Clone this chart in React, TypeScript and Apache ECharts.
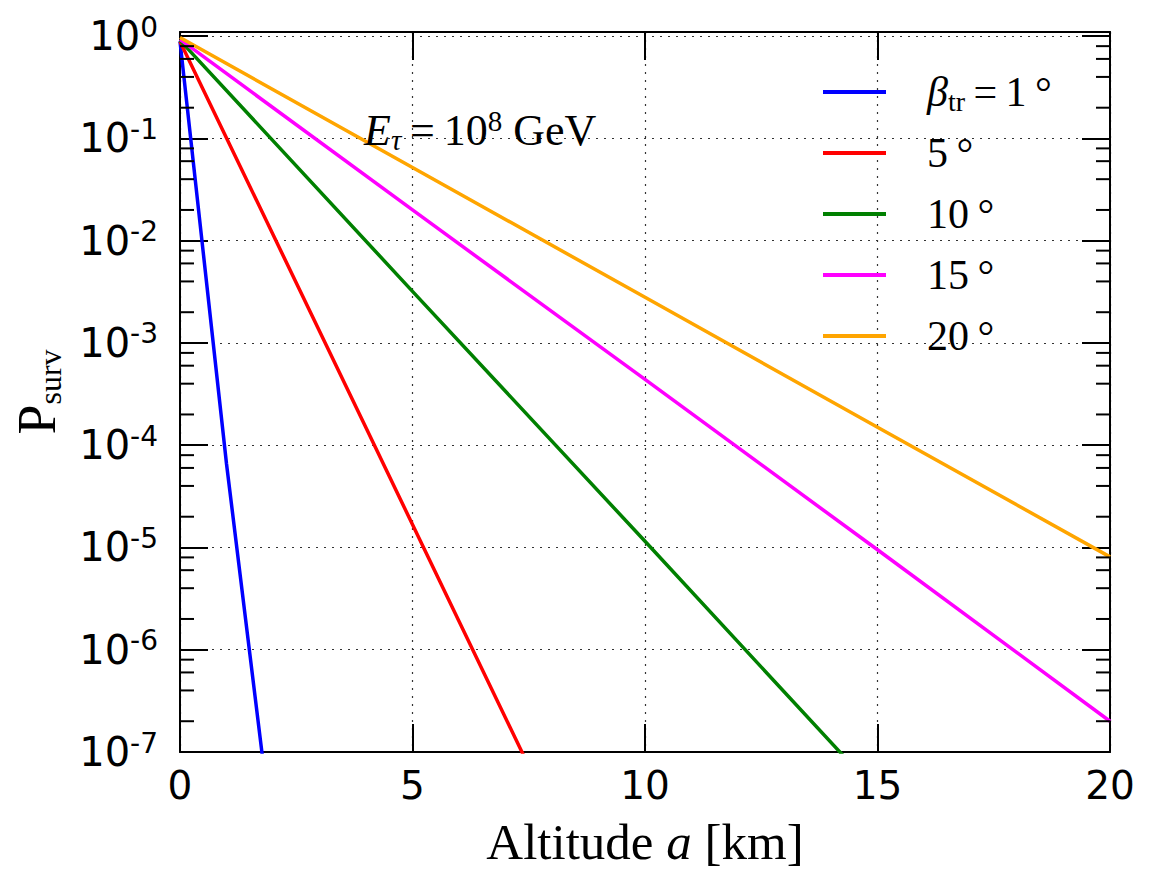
import React, { useEffect, useRef } from 'react';
import * as echarts from 'echarts';

// ---- data ----
const X_MIN = 0;
const X_MAX = 20;
const Y_MIN = 1e-7;
const Y_MAX = 1.1;
const X_TICKS_INTERVAL = 5;

const seriesNames = ['β_tr = 1°', '5°', '10°', '15°', '20°'];
const seriesColors = ['#0000ff', '#ff0000', '#008000', '#ff00ff', '#ffa500'];

const blueX = [0, 1, 2];
const blueY = [0.89, 6.6e-5, 1.3e-8];
const redX = [0, 2, 4, 6, 8];
const redY = [0.89, 1.15e-2, 1.48e-4, 1.9e-6, 2.45e-8];
const greenX = [0, 5, 10, 15];
const greenY = [0.91, 3.2e-3, 1.15e-5, 4e-8];
const magentaX = [0, 5, 10, 15, 20];
const magentaY = [0.93, 2.0e-2, 4.4e-4, 9.5e-6, 2.0e-7];
const orangeX = [0, 5, 10, 15, 20];
const orangeY = [0.97, 5.2e-2, 2.8e-3, 1.5e-4, 8.1e-6];

const decadeExponents = [-7, -6, -5, -4, -3, -2, -1];
const minorMultipliers = [2, 4, 6, 8];

const SERIF = '"Liberation Serif", "DejaVu Serif", serif';
const SANS = '"DejaVu Sans", sans-serif';

const zip = (xs: number[], ys: number[]) => xs.map((x, i) => [x, ys[i]]);
const seriesData = [
  zip(blueX, blueY),
  zip(redX, redY),
  zip(greenX, greenY),
  zip(magentaX, magentaY),
  zip(orangeX, orangeY),
];

const minorTickData: number[][] = [];
decadeExponents.forEach((e) => {
  minorMultipliers.forEach((m) => {
    minorTickData.push([X_MIN, m * Math.pow(10, e)]);
  });
});

const yLabelFormatter = (v: number) => {
  const lg = Math.log10(v);
  const e = Math.round(lg);
  if (Math.abs(lg - e) > 1e-6) return '';
  return `{b|10}{s|${e}}`;
};

const yLabelRich = {
  b: { fontFamily: SANS, fontSize: 40, lineHeight: 46, color: '#000' },
  s: { fontFamily: SANS, fontSize: 28, lineHeight: 18, verticalAlign: 'top', color: '#000' },
};

const legendRich = {
  n: { fontFamily: SERIF, fontSize: 42, lineHeight: 46, color: '#000' },
  it: { fontFamily: SERIF, fontStyle: 'italic', fontSize: 42, lineHeight: 46, color: '#000' },
  sub: { fontFamily: SERIF, fontSize: 28, lineHeight: 26, verticalAlign: 'bottom', color: '#000' },
};

const legendFormatter = (name: string) => {
  if (name.startsWith('β')) return '{it|β}{sub|tr}{n|\u2009=\u20091\u2009°}';
  return `{n|${name.replace('°', '\u2009°')}}`;
};

const option: any = {
  animation: false,
  backgroundColor: '#fff',
  grid: {
    left: 180,
    top: 32,
    width: 930,
    height: 720,
    containLabel: false,
    outerBoundsMode: 'none',
  },
  legend: {
    data: seriesNames,
    orient: 'vertical',
    left: 818,
    top: 64,
    icon: 'rect',
    itemWidth: 63,
    itemHeight: 4,
    itemGap: 15,
    formatter: legendFormatter,
    textStyle: {
      fontFamily: SERIF,
      fontSize: 42,
      color: '#000',
      padding: [0, 0, 0, 36],
      lineHeight: 46,
      height: 46,
      rich: legendRich,
    },
  },
  xAxis: [
    {
      type: 'value',
      min: X_MIN,
      max: X_MAX,
      interval: X_TICKS_INTERVAL,
      position: 'bottom',
      name: '{n|Altitude }{it|a}{n| [km]}',
      nameLocation: 'middle',
      nameGap: 64,
      nameTextStyle: {
        rich: {
          n: { fontFamily: SERIF, fontSize: 51, color: '#000' },
          it: { fontFamily: SERIF, fontStyle: 'italic', fontSize: 51, color: '#000' },
        },
      },
      axisLine: { show: true, onZero: false, lineStyle: { color: '#000', width: 2 } },
      axisTick: { show: true, inside: true, length: 28, lineStyle: { color: '#000', width: 2 } },
      axisLabel: { show: true, margin: 14, fontFamily: SANS, fontSize: 39, color: '#000' },
      splitLine: { show: true, lineStyle: { color: '#333', width: 1.2, type: [2, 6] } },
    },
    {
      type: 'value',
      min: X_MIN,
      max: X_MAX,
      interval: X_TICKS_INTERVAL,
      position: 'top',
      axisLine: { show: true, onZero: false, lineStyle: { color: '#000', width: 2 } },
      axisTick: { show: true, inside: true, length: 28, lineStyle: { color: '#000', width: 2 } },
      axisLabel: { show: false },
      splitLine: { show: false },
    },
  ],
  yAxis: [
    {
      type: 'log',
      min: Y_MIN,
      max: Y_MAX,
      position: 'left',
      name: '{p|P}{s|surv}',
      nameLocation: 'middle',
      nameRotate: 90,
      nameGap: 114,
      nameTextStyle: {
        rich: {
          p: { fontFamily: SERIF, fontSize: 54, lineHeight: 58, color: '#000' },
          s: { fontFamily: SERIF, fontSize: 32, lineHeight: 24, verticalAlign: 'bottom', color: '#000' },
        },
      },
      axisLine: { show: true, onZero: false, lineStyle: { color: '#000', width: 2 } },
      axisTick: { show: true, inside: true, length: 28, lineStyle: { color: '#000', width: 2 } },
      axisLabel: { show: true, margin: 22, formatter: yLabelFormatter, rich: yLabelRich },
      splitLine: { show: true, lineStyle: { color: '#333', width: 1.2, type: [2, 6] } },
      minorTick: { show: false },
    },
    {
      type: 'log',
      min: Y_MIN,
      max: Y_MAX,
      position: 'right',
      axisLine: { show: true, onZero: false, lineStyle: { color: '#000', width: 2 } },
      axisTick: { show: true, inside: true, length: 28, lineStyle: { color: '#000', width: 2 } },
      axisLabel: { show: false },
      splitLine: { show: false },
    },
  ],
  graphic: [
    {
      type: 'text',
      left: 364,
      top: 106,
      z: 10,
      style: {
        text: '{it|E}{sub|τ}{n|\u2009=\u200910}{sup|8}{n| GeV}',
        fill: '#000',
        rich: {
          n: { fontFamily: SERIF, fontSize: 44, lineHeight: 48, color: '#000' },
          it: { fontFamily: SERIF, fontStyle: 'italic', fontSize: 44, lineHeight: 48, color: '#000' },
          sub: { fontFamily: SERIF, fontStyle: 'italic', fontSize: 29, lineHeight: 26, verticalAlign: 'bottom', color: '#000' },
          sup: { fontFamily: SERIF, fontSize: 29, lineHeight: 18, verticalAlign: 'top', color: '#000' },
        },
      },
    },
  ],
  series: [
    ...seriesNames.map((name, i) => ({
      name,
      type: 'line',
      xAxisIndex: 0,
      yAxisIndex: 0,
      data: seriesData[i],
      showSymbol: false,
      symbol: 'none',
      clip: true,
      lineStyle: { color: seriesColors[i], width: 3.5 },
      itemStyle: { color: seriesColors[i] },
      z: 3,
    })),
    {
      type: 'custom',
      name: 'minorTicks',
      xAxisIndex: 0,
      yAxisIndex: 0,
      data: minorTickData,
      encode: { x: 0, y: 1 },
      silent: true,
      clip: false,
      z: 4,
      renderItem: (params: any, api: any) => {
        const v = api.value(1);
        const l = api.coord([X_MIN, v]);
        const r = api.coord([X_MAX, v]);
        const st = { stroke: '#000', lineWidth: 2 };
        return {
          type: 'group',
          children: [
            { type: 'line', shape: { x1: l[0], y1: l[1], x2: l[0] + 14, y2: l[1] }, style: st },
            { type: 'line', shape: { x1: r[0] - 14, y1: r[1], x2: r[0], y2: r[1] }, style: st },
          ],
        };
      },
    },
  ],
};

export default function App() {
  const ref = useRef<HTMLDivElement>(null);
  useEffect(() => {
    const chart = echarts.init(ref.current!, null, { renderer: 'svg' });
    chart.setOption(option);
    return () => chart.dispose();
  }, []);
  return (
    <div
      ref={ref}
      style={{ position: 'fixed', left: 0, top: 0, width: 1152, height: 886, background: '#fff' }}
    />
  );
}
